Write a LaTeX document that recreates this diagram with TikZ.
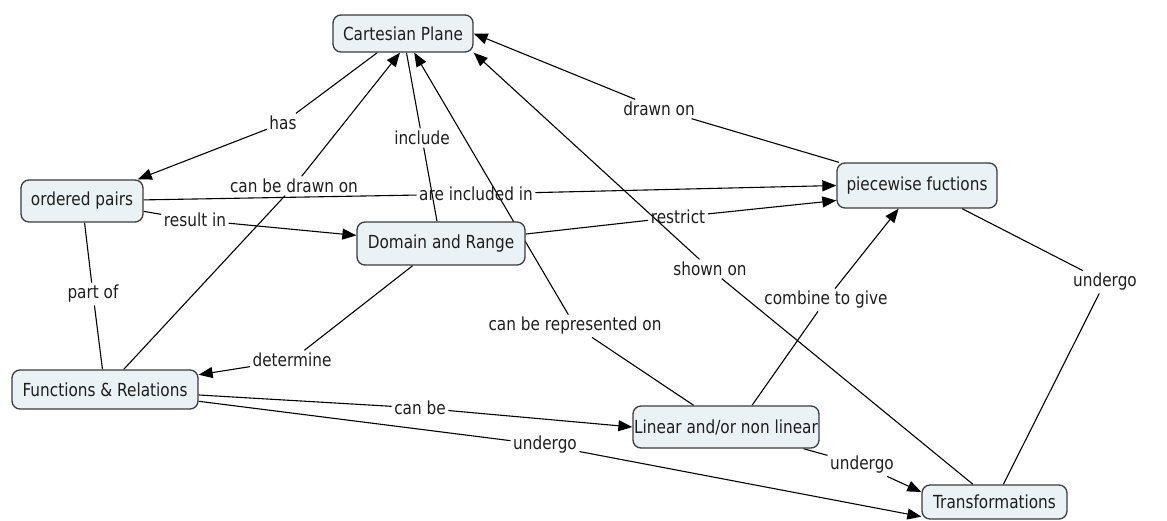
\documentclass[tikz,border=0pt]{standalone}
\usepackage{fontspec}
\setmainfont{DejaVu Sans}[FakeStretch=0.85]
\usetikzlibrary{arrows.meta}
\pgfdeclarelayer{bg}
\pgfsetlayers{bg,main}
\definecolor{boxfill}{HTML}{EAF2F5}
\definecolor{boxline}{HTML}{3C3C3C}
\definecolor{txt}{HTML}{1E1E1E}
\begin{document}
\begin{tikzpicture}[x=1pt,y=-1pt,font=\fontsize{18}{21}\selectfont,
  concept/.style={draw=boxline,line width=1.3pt,fill=boxfill,rounded corners=8pt,text=txt,inner sep=0pt},
  lbl/.style={text=txt,inner sep=2.5pt},
  link/.style={line width=1.1pt,draw=black},
  arr/.style={link,-{Triangle[length=14pt,width=11pt]}}]
\useasboundingbox (0,0) rectangle (1167,521);
% concepts
\node[concept,minimum width=140pt,minimum height=37pt] (cp) at (403,33.5) {Cartesian Plane};
\node[concept,minimum width=122pt,minimum height=42pt] (op) at (82,201) {ordered pairs};
\node[concept,minimum width=160pt,minimum height=45pt] (pw) at (917,185.5) {piecewise fuctions};
\node[concept,minimum width=168pt,minimum height=43pt] (dr) at (441,243.5) {Domain and Range};
\node[concept,minimum width=186pt,minimum height=39pt] (fr) at (105,389.5) {Functions \& Relations};
\node[concept,minimum width=186pt,minimum height=42pt] (ln) at (726,427) {Linear and/or non linear};
\node[concept,minimum width=145pt,minimum height=34pt] (tr) at (994.5,502) {Transformations};
% linking phrases
\node[lbl] (has) at (283,123) {has};
\node[lbl] (cbdo) at (294,186) {can be drawn on};
\node[lbl] (inc) at (422,138) {include};
\node[lbl] (incl) at (476,194) {are included in};
\node[lbl] (res) at (195,220) {result in};
\node[lbl] (part) at (93,294) {part of};
\node[lbl] (det) at (292,360) {determine};
\node[lbl] (restr) at (678,217) {restrict};
\node[lbl] (drawn) at (659,109) {drawn on};
\node[lbl] (shown) at (710,269) {shown on};
\node[lbl] (crep) at (575,326) {can be represented on};
\node[lbl] (comb) at (826,300) {combine to give};
\node[lbl] (ug3) at (1105,282) {undergo};
\node[lbl] (canbe) at (420,408) {can be};
\node[lbl] (ug1) at (545,445) {undergo};
\node[lbl] (ug2) at (862,465) {undergo};
% connectors
\begin{pgfonlayer}{bg}
\draw[link] (cp) -- (has); \draw[arr] (has) -- (op);
\draw[link] (op) -- (incl); \draw[arr] (incl) -- (pw.west);
\draw[link] (op) -- (res); \draw[arr] (res) -- (dr);
\draw[link] (op) -- (part); \draw[link] (part) -- (fr);
\draw[link] (fr) -- (cbdo); \draw[arr] (cbdo) -- ([xshift=-3pt]cp.south);
\draw[link] (dr) -- (inc); \draw[link] (inc) -- (cp);
\draw[link] (dr) -- (det); \draw[arr] (det) -- (fr);
\draw[link] (dr) -- (restr); \draw[arr] (restr) -- ([yshift=-15pt]pw.west);
\draw[link] (ln) -- (crep); \draw[arr] (crep) -- (cp);
\draw[link] ([xshift=26pt]ln.north) -- (comb); \draw[arr] (comb) -- (pw);
\draw[link] (ln) -- (ug2); \draw[arr] (ug2) -- ([yshift=10pt]tr.west);
\draw[link] (fr) -- (canbe); \draw[arr] (canbe) -- (ln.west);
\draw[link] (fr) -- (ug1); \draw[arr] (ug1) -- ([yshift=3pt]tr.south west);
\draw[link] (tr) -- (shown); \draw[arr] (shown) -- (cp.south east);
\draw[link] (pw) -- (drawn); \draw[arr] (drawn) -- (cp.east);
\draw[link] (pw) -- (ug3); \draw[link] (ug3) -- (tr);
\end{pgfonlayer}
\end{tikzpicture}
\end{document}
